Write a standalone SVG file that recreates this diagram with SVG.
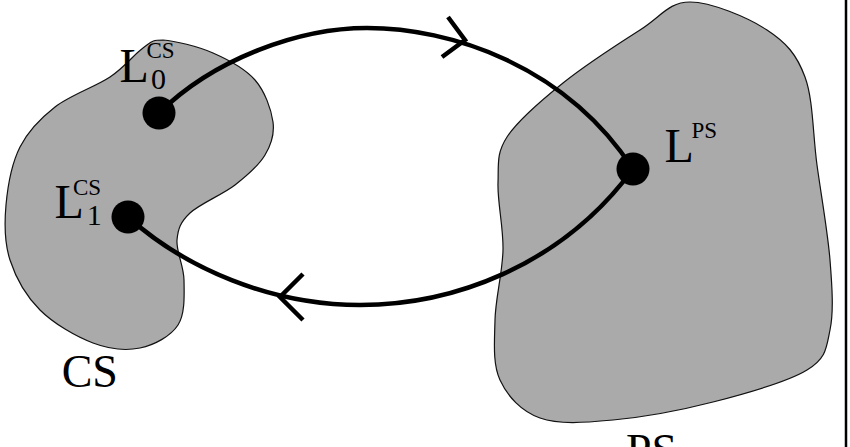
<svg xmlns="http://www.w3.org/2000/svg" width="850" height="447" viewBox="0 0 850 447">
<style>
.region{fill:#aaaaaa;stroke:#111;stroke-width:1.2}
.conn{fill:none;stroke:#000;stroke-width:4.5}
.dot{fill:#000}
text{font-family:"Liberation Serif","Times New Roman",serif;fill:#000}
.big{font-size:48px}
.sup{font-size:23px}
.sub{font-size:30px}
.name{font-size:46px}
</style>
<rect x="0" y="0" width="850" height="447" fill="#fff"/>
<line x1="846" y1="0" x2="846" y2="447" stroke="#000" stroke-width="2.5"/>
<g id="CS">
<path class="region" d="M163,40 C174.7,40.8 197.7,46.3 213,53 C228.3,59.7 245,68.5 255,80 C265,91.5 271.3,109.5 273,122 C274.7,134.5 271.3,144.5 265,155 C258.7,165.5 247.5,175.3 235,185 C222.5,194.7 199.7,203.8 190,213 C180.3,222.2 178,228.8 177,240 C176,251.2 183.8,265.8 184,280 C184.2,294.2 185.3,313.7 178,325 C170.7,336.3 154.2,345 140,348 C125.8,351 109.7,349.3 93,343 C76.3,336.7 53.8,323.8 40,310 C26.2,296.2 15.7,277.5 10,260 C4.3,242.5 4.3,223.8 6,205 C7.7,186.2 11.8,163.3 20,147 C28.2,130.7 40,118.7 55,107 C70,95.3 95.3,86.8 110,77 C124.7,67.2 134.2,54.2 143,48 C151.8,41.8 151.3,40 163,40 Z"/>
<text class="name" x="61.7" y="387">CS</text>
</g>
<g id="PS">
<path class="region" d="M690,2 C711.2,2 747.8,17.5 767,30 C786.2,42.5 796.7,54.5 805,77 C813.3,99.5 812.8,134.5 817,165 C821.2,195.5 827.8,232.5 830,260 C832.2,287.5 833.8,311.7 830,330 C826.2,348.3 826.5,358 807,370 C787.5,382 745.3,393.7 713,402 C680.7,410.3 641.8,417.3 613,420 C584.2,422.7 558.8,424.7 540,418 C521.2,411.3 507.5,396.3 500,380 C492.5,363.7 494.5,341.7 495,320 C495.5,298.3 502.5,272.8 503,250 C503.5,227.2 497.3,201.8 498,183 C498.7,164.2 496.2,153.7 507,137 C517.8,120.3 540.8,100.8 563,83 C585.2,65.2 618.8,43.5 640,30 C661.2,16.5 668.8,2 690,2 Z"/>
<text class="name" x="626" y="465.5">PS</text>
</g>
<g id="connectors">
<path class="conn" d="M159,113 C215,58 300,28 367,28 C450,28 565,65 633,169"/>
<polyline class="conn" points="448,17 465,40 442,57"/>
<path class="conn" d="M128,217 C185,268 270,305 360,305 C450,305 560,268 633,169"/>
<polyline class="conn" points="303,274 280,297 303,320"/>
</g>
<g id="L0CS">
<circle class="dot" cx="159" cy="113" r="16.5"/>
<text class="big" x="119.5" y="82">L</text>
<text class="sup" x="146.5" y="58">CS</text>
<text class="sub" x="151" y="89">0</text>
</g>
<g id="L1CS">
<circle class="dot" cx="128" cy="217" r="16.5"/>
<text class="big" x="54.5" y="218">L</text>
<text class="sup" x="73" y="195">CS</text>
<text class="sub" x="86.7" y="225">1</text>
</g>
<g id="LPS">
<circle class="dot" cx="633" cy="169" r="16.5"/>
<text class="big" x="664.5" y="162">L</text>
<text class="sup" x="691.5" y="138">PS</text>
</g>
</svg>
